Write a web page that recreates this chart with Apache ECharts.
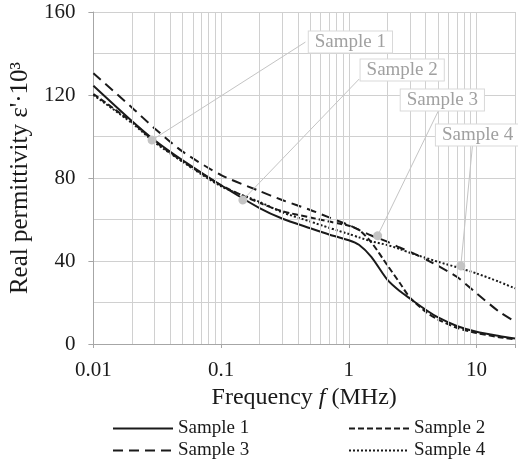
<!DOCTYPE html>
<html>
<head>
<meta charset="utf-8">
<script src="https://cdn.jsdelivr.net/npm/echarts@6/dist/echarts.min.js"></script>
<style>
  html, body { margin: 0; padding: 0; background: #fff; }
  #chart { width: 518px; height: 464px; }
</style>
</head>
<body>
<div id="chart"></div>
<script>
// frequency (MHz) and real permittivity (x10^3)
const freq    = [0.01, 0.02, 0.03, 0.05, 0.1, 0.2, 0.3, 0.5, 0.7, 1, 1.2, 1.5, 2, 2.5, 3, 4, 5, 7, 10, 15, 20];
const sample1 = [124.5, 107.5, 98.3, 88.5, 76.5, 65.5, 60.5, 55.8, 52.8, 50, 47.8, 42, 31, 25.5, 22, 16.5, 12.8, 8.7, 5.9, 3.9, 2.7];
const sample2 = [120.5, 107, 97.8, 88, 76.5, 68, 64, 61, 59, 57, 55, 49, 38, 29.5, 22.5, 15.5, 11.8, 7.8, 5.3, 3.3, 2.2];
const sample3 = [130.5, 114, 104, 92.7, 81.4, 73.7, 69.4, 64.6, 61, 57.3, 55, 52.3, 49.3, 46.5, 44.5, 40.8, 37.6, 32.4, 24.4, 15.6, 10.8];
const sample4 = [120, 106.5, 97.3, 87.8, 76, 68.5, 63.5, 59, 56, 53, 51.4, 49.5, 47.7, 45.8, 44, 41.5, 39.6, 37, 34, 30, 26.8];
const names = ['Sample 1', 'Sample 2', 'Sample 3', 'Sample 4'];

// callouts: point on the curve -> where the label box sits
const calloutPoint  = [[0.0288, 98.3], [0.148, 69.4], [1.68, 52.2], [7.53, 37.6]];
const calloutAnchor = [[0.457, 145.5], [1.205, 127.7], [5.02, 112.3], [9.3, 95.9]];

const FONT = 'Liberation Serif';
const INK = '#1a1a1a';
const GRID = '#d0d0d0';
const dashes = ['solid', [6, 3], [10, 6], [2, 2]];
const labelOffset = [[45, 0], [43, -9], [4, -11], [5, -10]];
const legendPos = [[112, 419], [348, 419], [112, 441], [348, 441]];

// minor log grid lines 2..9 of each decade
const minorX = [];
for (let d = -2; d <= 1; d++) {
    for (let k = 2; k <= 9; k++) {
        const v = k * Math.pow(10, d);
        if (v < 20) minorX.push(+v.toPrecision(3));
    }
}

const values = [sample1, sample2, sample3, sample4];
const series = values.map((vals, i) => ({
    name: names[i],
    type: 'line',
    smooth: 0.25,
    symbol: 'none',
    z: 3,
    data: freq.map((f, j) => [f, vals[j]]),
    lineStyle: { color: INK, width: 2, type: dashes[i] },
    itemStyle: { color: INK },
    emphasis: { disabled: true },
    markLine: {
        silent: true,
        symbol: ['circle', 'none'],
        symbolSize: 9,
        label: { show: false },
        lineStyle: { color: '#c4c4c4', width: 1, type: 'solid' },
        emphasis: { disabled: true },
        data: [[{ coord: calloutPoint[i] }, { coord: calloutAnchor[i] }]]
    },
    markPoint: {
        silent: true,
        symbol: 'circle',
        symbolSize: 0,
        data: [{ name: names[i], coord: calloutAnchor[i] }],
        label: {
            show: true,
            position: 'inside',
            offset: labelOffset[i],
            formatter: '{b}',
            color: '#a0a0a0',
            fontSize: 19,
            fontFamily: FONT,
            backgroundColor: '#fff',
            borderColor: '#d9d9d9',
            borderWidth: 1,
            padding: [1, 6]
        }
    }
}));

series.unshift({
    name: 'grid',
    type: 'line',
    data: [[0.01, 0]],
    symbol: 'none',
    lineStyle: { width: 0 },
    z: 1,
    silent: true,
    markLine: {
        silent: true,
        symbol: 'none',
        label: { show: false },
        lineStyle: { color: GRID, width: 1, type: 'solid' },
        emphasis: { disabled: true },
        data: minorX.map(v => ({ xAxis: v }))
    }
});

const chart = echarts.init(document.getElementById('chart'));
chart.setOption({
    animation: false,
    backgroundColor: '#fff',
    grid: { left: 90, right: -3.5, top: 12, bottom: 120 },
    xAxis: {
        type: 'log',
        logBase: 10,
        min: 0.01,
        max: 20,
        axisLine: { lineStyle: { color: '#a6a6a6', width: 1 } },
        axisTick: { show: true, length: 4, lineStyle: { color: '#a6a6a6' } },
        splitLine: { show: true, lineStyle: { color: GRID, width: 1 } },
        axisLabel: {
            fontSize: 21, fontFamily: FONT, color: INK, margin: 16,
            formatter: v => {
                const e = Math.log10(v);
                if (Math.abs(e - Math.round(e)) > 1e-6) return '';
                return e < 0 ? v.toFixed(-Math.round(e)) : String(Math.round(v));
            }
        },
        name: 'Frequency {i|f} (MHz)',
        nameLocation: 'middle',
        nameGap: 36,
        nameTextStyle: {
            fontSize: 24, fontFamily: FONT, color: INK,
            rich: { i: { fontSize: 24, fontFamily: FONT, fontStyle: 'italic', color: INK } }
        }
    },
    yAxis: {
        type: 'value',
        min: 0,
        max: 160,
        interval: 40,
        axisLine: { show: true, lineStyle: { color: '#a6a6a6', width: 1 } },
        axisTick: { show: true, length: 5, lineStyle: { color: '#a6a6a6' } },
        splitLine: { show: true, lineStyle: { color: GRID, width: 1 } },
        minorTick: { show: false, splitNumber: 2 },
        minorSplitLine: { show: true, lineStyle: { color: GRID, width: 1 } },
        axisLabel: { fontSize: 21, fontFamily: FONT, color: INK, margin: 18 },
        name: "Real permittivity ε'·10³",
        nameLocation: 'middle',
        nameGap: 50,
        nameTextStyle: { fontSize: 25, fontFamily: FONT, color: INK }
    },
    legend: names.map((n, i) => ({
        data: [n],
        left: legendPos[i][0],
        top: legendPos[i][1],
        padding: 0,
        itemWidth: 60,
        itemHeight: 14,
        itemGap: 0,
        selectedMode: false,
        itemStyle: { opacity: 0 },
        textStyle: { fontSize: 19, fontFamily: FONT, color: INK }
    })),
    series: series
});
</script>
</body>
</html>
